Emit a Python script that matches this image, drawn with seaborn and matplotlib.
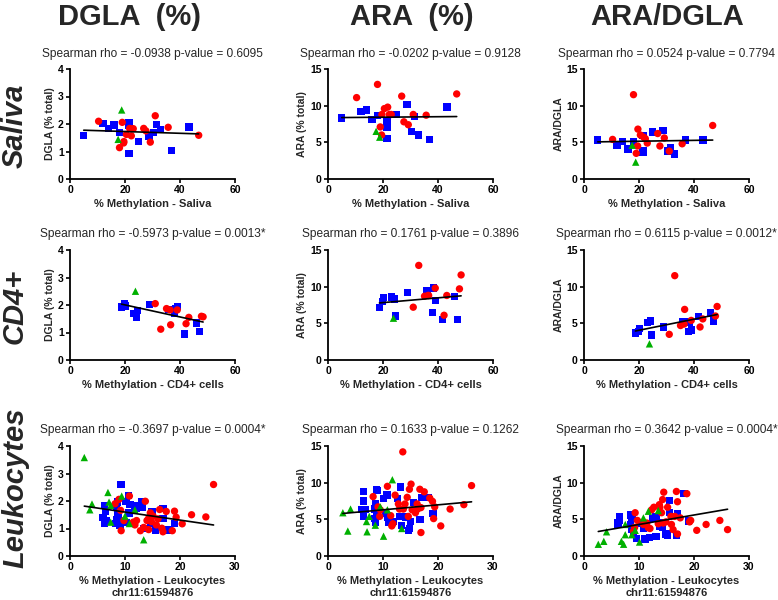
import numpy as np
import pandas as pd
import matplotlib
matplotlib.use("Agg")
import matplotlib.pyplot as plt
import seaborn as sns

sns.set_theme(style="white")
plt.rcParams['font.family'] = ['Liberation Sans', 'DejaVu Sans']

# ---------------- DATA ----------------
# column headers / row labels / titles
col_titles = ["DGLA  (%)", "ARA  (%)", "ARA/DGLA"]
row_titles = ["Saliva", "CD4+", "Leukocytes"]
y_labels = ["DGLA (% total)", "ARA (% total)", "ARA/DGLA"]
x_labels = ["% Methylation - Saliva", "% Methylation - CD4+ cells",
            "% Methylation - Leukocytes\nchr11:61594876"]
stats_text = [
    ["Spearman rho = -0.0938 p-value = 0.6095", "Spearman rho = -0.0202 p-value = 0.9128", "Spearman rho = 0.0524 p-value = 0.7794"],
    ["Spearman rho = -0.5973 p-value = 0.0013*", "Spearman rho = 0.1761 p-value = 0.3896", "Spearman rho = 0.6115 p-value = 0.0012*"],
    ["Spearman rho = -0.3697 p-value = 0.0004*", "Spearman rho = 0.1633 p-value = 0.1262", "Spearman rho = 0.3642 p-value = 0.0004*"],
]
x_ticks_rows = [[0, 20, 40, 60], [0, 20, 40, 60], [0, 10, 20, 30]]
y_ticks_cols = [[0, 1, 2, 3, 4], [0, 5, 10, 15], [0, 5, 10, 15]]

# Saliva
sal_x_blue = [5, 12, 14, 16, 18, 21.5, 21.5, 21.5, 25, 28.7, 30.3, 31.4, 33, 37, 43.3]
sal_dgla_blue = [1.59, 2.02, 1.83, 1.96, 1.69, 2.06, 1.96, 0.93, 1.37, 1.54, 1.70, 1.98, 1.81, 1.03, 1.89]
sal_ara_blue = [8.3, 9.2, 9.4, 8.1, 8.7, 7.9, 7.1, 5.5, 8.8, 10.2, 6.5, 8.5, 6.0, 5.4, 9.8]
sal_ratio_blue = [5.3, 4.6, 5.1, 4.1, 5.1, 3.8, 3.7, 5.9, 6.4, 6.6, 3.8, 4.3, 3.4, 5.3, 5.3]
sal_x_red = [10.4, 18, 19, 19.5, 19.6, 20.5, 21.7, 22.3, 23, 26.8, 27.6, 29.2, 31, 35.7, 46.8]
sal_dgla_red = [2.10, 1.14, 2.06, 1.31, 1.36, 1.62, 1.84, 1.57, 1.83, 1.84, 1.75, 1.34, 2.30, 1.88, 1.59]
sal_ara_red = [11.1, 12.9, 7.1, 6.0, 8.8, 9.6, 9.8, 8.8, 8.8, 11.3, 7.8, 7.4, 8.8, 8.7, 11.6]
sal_ratio_red = [5.4, 11.5, 3.5, 4.5, 6.8, 6.0, 5.7, 5.5, 4.9, 6.2, 4.5, 5.6, 3.8, 4.8, 7.3]
sal_x_green = [17.5, 18.8]
sal_dgla_green = [1.44, 2.51]
sal_ara_green = [6.5, 5.7]
sal_ratio_green = [4.6, 2.3]

# CD4+
cd4_x_blue = [18.7, 19.7, 20.1, 23.2, 24.1, 24.6, 28.8, 36.0, 38.0, 38.3, 39.0, 41.7, 45.9, 47.1]
cd4_dgla_blue = [1.93, 2.05, 1.96, 1.68, 1.56, 1.80, 2.01, 1.83, 1.70, 1.87, 1.95, 0.94, 1.35, 1.04]
cd4_ara_blue = [7.2, 8.0, 8.5, 8.6, 8.3, 6.0, 9.2, 9.4, 6.5, 9.8, 8.1, 5.5, 8.7, 5.5]
cd4_ratio_blue = [3.7, 3.9, 4.3, 5.1, 5.3, 3.4, 4.5, 5.2, 3.9, 5.2, 4.1, 5.9, 6.4, 5.3]
cd4_x_red = [31.0, 33.0, 35.1, 36.4, 36.6, 39.0, 42.2, 43.2, 47.8, 48.4]
cd4_dgla_red = [2.05, 1.12, 1.87, 1.82, 1.28, 1.82, 1.32, 1.55, 1.59, 1.57]
cd4_ara_red = [7.2, 12.9, 8.7, 8.8, 8.8, 9.8, 6.1, 8.8, 9.7, 11.6]
cd4_ratio_red = [3.5, 11.5, 4.7, 4.9, 6.9, 5.4, 4.5, 5.6, 6.0, 7.3]
cd4_x_green = [23.8]
cd4_dgla_green = [2.50]
cd4_ara_green = [5.7]
cd4_ratio_green = [2.2]

# Leukocytes - DGLA
leu_dgla_x_blue = [9.3, 10.6, 6.3, 6.4, 6.0, 6.3, 6.6, 8.3, 8.5, 8.6, 8.5, 8.6, 8.8, 9.1, 10.2,
                   10.9, 10.7, 10.3, 11.8, 12.1, 13.1, 13.1, 14.9, 14.6, 15.5, 16.9, 16.9, 18.0, 19.0, 13.4]
leu_dgla_blue = [2.60, 2.21, 1.84, 1.62, 1.39, 1.19, 1.27, 1.19, 1.31, 1.96, 1.78, 1.57, 1.41, 1.13, 1.99,
                 1.87, 1.56, 1.23, 1.84, 1.75, 1.96, 1.77, 1.62, 1.17, 0.94, 1.72, 1.37, 0.94, 1.19, 1.01]
leu_dgla_x_red = [8.2, 8.9, 9.2, 9.3, 9.8, 10.8, 11.5, 11.8, 12.1, 12.8, 13.7, 14.0, 14.3, 14.6, 14.3, 14.8,
                  15.1, 15.7, 16.0, 16.3, 16.7, 16.9, 17.5, 18.6, 19.0, 19.3, 20.4, 22.1, 24.7, 26.1, 13.4]
leu_dgla_red = [1.90, 2.06, 1.66, 0.92, 1.29, 2.18, 1.23, 1.13, 1.29, 0.92, 1.99, 1.29, 1.37, 1.57, 0.96, 1.25,
                1.45, 1.13, 1.35, 1.69, 1.01, 0.88, 1.62, 0.92, 1.63, 1.41, 1.17, 1.50, 1.42, 2.60, 1.04]
leu_dgla_x_green = [2.6, 4.0, 3.6, 6.9, 7.1, 7.4, 7.4, 9.4, 10.0, 10.8, 11.8, 13.4]
leu_dgla_green = [3.58, 1.89, 1.68, 2.31, 1.96, 1.84, 1.23, 2.18, 1.45, 1.18, 1.68, 0.59]

# Leukocytes - ARA
leu_ara_x_blue = [6.5, 6.4, 6.2, 6.7, 6.4, 8.8, 8.9, 8.6, 8.5, 8.8, 8.5, 8.6, 10.1, 10.7, 10.4, 10.8,
                  11.1, 11.8, 12.6, 13.2, 13.0, 13.4, 14.1, 15.0, 14.8, 14.6, 15.6, 16.7, 17.1, 18.2, 19.1]
leu_ara_blue = [8.8, 7.5, 6.3, 6.3, 5.4, 9.1, 8.9, 7.2, 6.4, 5.8, 5.1, 4.6, 7.8, 8.3, 5.8, 5.3,
                4.6, 4.7, 7.8, 9.4, 5.4, 4.2, 5.3, 4.7, 3.75, 3.5, 7.3, 5.0, 8.0, 8.0, 5.8]
leu_ara_x_red = [8.2, 9.1, 9.5, 9.4, 10.8, 11.4, 11.6, 11.8, 12.2, 12.8, 13.0, 13.6, 13.7, 14.0, 14.4, 14.6, 14.8,
                 15.1, 15.3, 15.9, 16.2, 16.3, 16.7, 16.9, 16.9, 17.5, 18.5, 19.0, 19.4, 19.2, 20.5, 22.2, 24.7, 26.1]
leu_ara_red = [8.1, 6.7, 6.3, 5.4, 9.5, 5.5, 4.1, 4.4, 8.3, 7.1, 6.4, 14.2, 6.4, 7.1, 8.0, 5.4, 9.1,
               9.8, 6.3, 5.9, 7.1, 6.4, 9.1, 6.6, 3.2, 8.75, 7.9, 7.45, 6.7, 5.1, 4.1, 6.4, 7.0, 9.6]
leu_ara_x_green = [2.7, 4.1, 3.6, 7.0, 7.1, 7.5, 8.6, 9.5, 10.1, 10.8, 11.7, 13.4]
leu_ara_green = [5.9, 6.4, 3.4, 4.7, 3.3, 5.4, 4.2, 6.7, 2.7, 6.3, 10.4, 3.75]

# Leukocytes - ARA/DGLA
leu_ratio_x_blue = [6.1, 6.4, 6.5, 6.2, 8.4, 8.7, 8.7, 8.5, 8.7, 9.0, 9.5, 10.3, 10.8, 11.1, 11.9,
                    12.5, 13.1, 13.1, 13.8, 14.3, 14.9, 15.2, 15.5, 15.5, 17.0, 16.8, 18.2, 19.0, 14.1]
leu_ratio_blue = [4.5, 5.3, 4.8, 4.3, 5.6, 5.7, 5.2, 4.3, 3.6, 3.4, 2.4, 4.5, 3.8, 2.3, 2.5,
                  5.1, 5.3, 2.7, 4.1, 3.9, 3.0, 2.85, 7.6, 5.9, 5.75, 2.85, 8.5, 4.75, 4.5]
leu_ratio_x_red = [9.3, 9.0, 9.2, 9.7, 10.8, 11.4, 11.7, 12.0, 12.3, 12.7, 13.5, 13.7, 13.8, 14.3, 14.5, 14.1, 14.4,
                   14.9, 15.2, 15.8, 15.9, 16.2, 16.5, 16.8, 17.0, 17.0, 17.5, 18.7, 19.2, 19.4, 20.5, 22.2, 24.7, 26.1]
leu_ratio_red = [5.9, 3.4, 3.9, 4.85, 4.3, 4.5, 3.85, 3.75, 6.3, 6.65, 4.4, 7.0, 6.65, 7.7, 8.7, 5.9, 4.5,
                 4.65, 6.65, 5.4, 4.3, 3.6, 5.4, 8.8, 7.4, 3.0, 5.2, 8.5, 4.65, 4.85, 3.5, 4.3, 4.85, 3.6]
leu_ratio_x_green = [2.6, 3.6, 4.1, 6.8, 7.2, 7.5, 7.5, 8.7, 9.3, 10.1, 10.8, 11.7, 13.5]
leu_ratio_green = [1.6, 2.0, 3.3, 2.0, 1.6, 2.9, 4.3, 2.9, 3.5, 1.9, 5.2, 6.1, 6.2]

group_names = ["blue", "red", "green"]
group_colors = {"blue": "#0000ff", "red": "#ff0000", "green": "#00b000"}
group_markers = {"blue": "s", "red": "o", "green": "^"}

panels = [
    [((sal_x_blue, sal_dgla_blue), (sal_x_red, sal_dgla_red), (sal_x_green, sal_dgla_green)),
     ((sal_x_blue, sal_ara_blue), (sal_x_red, sal_ara_red), (sal_x_green, sal_ara_green)),
     ((sal_x_blue, sal_ratio_blue), (sal_x_red, sal_ratio_red), (sal_x_green, sal_ratio_green))],
    [((cd4_x_blue, cd4_dgla_blue), (cd4_x_red, cd4_dgla_red), (cd4_x_green, cd4_dgla_green)),
     ((cd4_x_blue, cd4_ara_blue), (cd4_x_red, cd4_ara_red), (cd4_x_green, cd4_ara_green)),
     ((cd4_x_blue, cd4_ratio_blue), (cd4_x_red, cd4_ratio_red), (cd4_x_green, cd4_ratio_green))],
    [((leu_dgla_x_blue, leu_dgla_blue), (leu_dgla_x_red, leu_dgla_red), (leu_dgla_x_green, leu_dgla_green)),
     ((leu_ara_x_blue, leu_ara_blue), (leu_ara_x_red, leu_ara_red), (leu_ara_x_green, leu_ara_green)),
     ((leu_ratio_x_blue, leu_ratio_blue), (leu_ratio_x_red, leu_ratio_red), (leu_ratio_x_green, leu_ratio_green))],
]

# ---------------- LAYOUT ----------------
W, H = 778, 600
fig = plt.figure(figsize=(W / 100, H / 100), dpi=100)

col_left = [70, 328, 584]
ax_w = 165
row_top = [69, 250, 446]
ax_h = 110

def fx(px):
    return px / W

def fy(py):
    return 1 - py / H

for r in range(3):
    for c in range(3):
        ax = fig.add_axes([fx(col_left[c]), fy(row_top[r] + ax_h), ax_w / W, ax_h / H])
        frames = []
        for g, (xs, ys) in zip(group_names, panels[r][c]):
            frames.append(pd.DataFrame({"x": xs, "y": ys, "group": g}))
        df = pd.concat(frames, ignore_index=True)
        sns.scatterplot(data=df, x="x", y="y", hue="group", style="group",
                        palette=group_colors, markers=group_markers,
                        hue_order=group_names, style_order=group_names,
                        s=28, linewidth=0, legend=False, ax=ax, clip_on=False, zorder=2)
        sns.regplot(data=df, x="x", y="y", scatter=False, ci=None, truncate=True,
                    line_kws={"color": "black", "lw": 1.2, "zorder": 3}, ax=ax)
        xt = x_ticks_rows[r]
        yt = y_ticks_cols[c]
        ax.set_xlim(xt[0], xt[-1])
        ax.set_ylim(yt[0], yt[-1])
        ax.set_xticks(xt)
        ax.set_yticks(yt)
        for s in ["top", "right"]:
            ax.spines[s].set_visible(False)
        for s in ["left", "bottom"]:
            ax.spines[s].set_color("black")
            ax.spines[s].set_linewidth(1.3)
        ax.tick_params(direction="out", length=3, width=1.2, colors="black",
                       labelsize=7.5, pad=1.5, bottom=True, left=True)
        for lab in ax.get_xticklabels() + ax.get_yticklabels():
            lab.set_fontweight("bold")
        ax.set_ylabel(y_labels[c], fontsize=7.5, fontweight="bold", labelpad=2)
        ax.set_xlabel(x_labels[r], fontsize=8, fontweight="bold", labelpad=3,
                      linespacing=1.2)
        ax.set_title(stats_text[r][c], fontsize=8.6, pad=9)
        ax.set_facecolor("white")

# column headers
for c, (t, cx) in enumerate(zip(col_titles, [130, 412, 667])):
    fig.text(fx(cx), fy(17), t, ha="center", va="center", fontsize=21, fontweight="bold")

# row labels
for t, cy in zip(row_titles, [126, 306, 488]):
    fig.text(fx(15), fy(cy), t, ha="center", va="center", rotation=90,
             fontsize=21, fontweight="bold", fontstyle="italic")

fig.savefig("out.png", dpi=100, facecolor="white")
